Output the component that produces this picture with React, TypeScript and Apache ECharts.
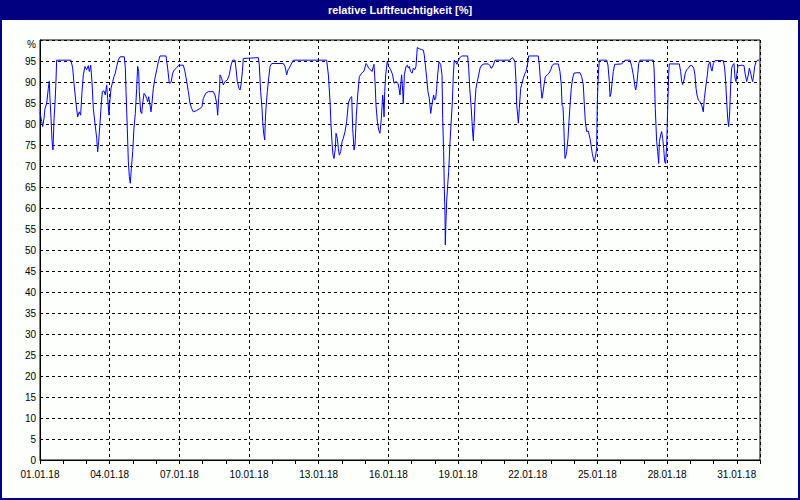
import React, { useEffect, useRef } from "react";
import * as echarts from "echarts";

const TITLE = "relative Luftfeuchtigkeit [%]";
const MONTH_SUFFIX = ".01.18";
const X_MAX_HOURS = 744; // 01.01.18 00:00 .. 01.02.18 00:00
const Y_TICKS_TOP_LABEL = "%";

// [hours since 01.01.18 00:00, relative humidity %]
const week1: [number, number][] = [
  [0, 82.7], [1.7, 80.6], [2.8, 79.4], [4.1, 81.3], [5.2, 83.7], [6.9, 84.9], [8.6, 88.5], [9.6, 90.2], [10.3, 86.1], [11.4, 81.3],
  [12.4, 76.2], [13.4, 73.8], [14.5, 81.2], [15.5, 84.9], [16.5, 90.1], [17.2, 95.2], [32.0, 95.2], [33.8, 93.3], [35.1, 89.7], [37.2, 84.9],
  [38.9, 81.7], [40.6, 82.9], [42.0, 82.1], [43.4, 87.7], [44.8, 91.7], [46.5, 93.7], [48.2, 92.9], [49.9, 93.9], [51.0, 92.5], [52.4, 94.0],
  [53.7, 90.1], [55.1, 83.7], [56.8, 80.2], [58.6, 76.6], [59.6, 73.4], [60.6, 75.8], [62.0, 80.2], [63.0, 83.7], [64.4, 87.7], [66.1, 87.9],
  [67.5, 86.9], [68.9, 89.3], [69.9, 86.1], [71.3, 82.1], [72.3, 85.7], [73.4, 88.5], [75.1, 90.1], [76.5, 91.3], [77.8, 92.1], [79.2, 93.7],
  [80.9, 95.2], [82.7, 96.0], [87.1, 96.0], [88.2, 93.3], [88.9, 87.7], [90.2, 79.0], [91.3, 71.0], [92.3, 67.5], [93.3, 65.9], [94.4, 69.4],
  [95.8, 73.4], [97.1, 79.0], [98.5, 82.5], [99.9, 88.5], [100.9, 93.7], [102.0, 92.5], [102.6, 87.7], [104.0, 82.9], [105.1, 82.5], [106.1, 84.9],
  [107.5, 87.3], [108.8, 86.9], [110.2, 86.1], [111.3, 85.3], [112.3, 86.5], [113.7, 84.5], [114.7, 82.9], [115.7, 84.9], [117.1, 88.5], [118.8, 90.9],
  [120.6, 92.9], [122.3, 94.8], [124.0, 96.2], [130.2, 96.2], [131.9, 93.3], [133.6, 89.7], [135.4, 89.9], [137.1, 92.1], [138.8, 92.9], [141.2, 93.4],
  [143.3, 94.0], [148.1, 94.0], [149.8, 92.5], [151.6, 90.1], [153.3, 87.7], [155.0, 84.9], [156.7, 83.7], [158.4, 82.9], [161.9, 83.2], [165.3, 83.7],
  [167.4, 84.1], [168.8, 86.1], [171.2, 87.3], [173.9, 87.7], [179.1, 87.7], [180.8, 86.9], [182.6, 84.9], [183.6, 82.1], [184.6, 86.1], [185.6, 88.5],
];

const week2: [number, number][] = [
  [186.0, 91.7], [187.7, 90.9], [189.4, 89.3], [191.2, 90.1], [193.6, 90.5], [195.6, 91.7], [197.4, 94.0], [199.1, 95.2], [201.5, 95.2], [202.5, 93.3],
  [203.9, 90.1], [205.6, 88.5], [206.7, 88.1], [207.7, 89.3], [209.1, 92.5], [210.1, 95.6], [225.6, 95.8], [226.6, 94.0], [228.0, 87.7], [229.4, 83.7],
  [230.1, 80.6], [231.1, 77.8], [232.2, 76.2], [232.8, 80.6], [233.5, 83.7], [234.9, 87.7], [236.3, 90.9], [237.7, 93.7], [239.4, 94.4], [251.4, 94.4],
  [253.2, 93.7], [254.9, 91.7], [256.3, 92.9], [257.6, 93.3], [259.0, 94.0], [261.8, 95.2], [296.2, 95.2], [298.0, 91.7], [299.7, 85.3], [300.7, 79.8],
  [301.7, 75.8], [302.8, 72.6], [303.8, 71.8], [305.2, 74.2], [305.9, 77.8], [307.2, 76.6], [308.3, 74.2], [309.3, 72.6], [310.7, 73.4], [312.1, 75.8],
  [313.4, 76.6], [315.2, 78.2], [316.9, 80.6], [318.6, 84.9], [320.3, 86.1], [322.1, 86.5], [323.1, 79.0], [324.5, 73.8], [325.5, 75.0], [326.9, 82.1],
  [328.3, 86.9], [330.0, 91.3], [332.4, 92.1], [334.8, 92.6], [336.9, 94.4], [338.2, 94.0], [339.6, 93.3], [341.7, 92.9], [343.1, 92.5], [345.1, 94.2],
  [346.2, 90.1], [347.2, 84.5], [348.6, 80.6], [350.0, 78.6], [351.3, 77.8], [352.7, 81.3], [354.1, 86.9], [354.8, 85.3], [355.5, 81.7], [356.2, 87.7],
  [357.2, 91.7], [358.9, 95.0], [360.3, 93.7], [362.4, 92.9], [364.4, 91.7], [365.8, 89.7], [367.9, 90.1], [369.9, 89.7], [371.0, 88.5], [372.0, 86.9],
];

const week3: [number, number][] = [
  [373.0, 90.1], [373.7, 91.7], [374.8, 87.7], [375.4, 84.9], [376.5, 91.7], [378.2, 93.7], [379.6, 94.0], [380.6, 93.3], [381.6, 93.7], [383.0, 92.5],
  [384.4, 92.1], [385.8, 93.3], [387.2, 92.9], [388.5, 93.7], [389.9, 98.2], [392.0, 97.9], [394.4, 97.7], [396.1, 97.6], [397.1, 96.4], [398.2, 94.0],
  [399.6, 90.9], [400.9, 87.7], [402.3, 86.1], [403.7, 82.5], [404.7, 84.1], [405.8, 85.7], [406.8, 86.9], [407.8, 85.7], [408.9, 86.1], [409.9, 88.5],
  [410.9, 91.7], [412.3, 94.8], [414.0, 94.2], [415.4, 91.7], [416.1, 81.3], [417.1, 73.4], [417.8, 64.7], [418.5, 58.3], [418.8, 51.2], [419.5, 56.7],
  [420.2, 61.5], [421.3, 65.5], [422.3, 68.7], [423.7, 75.8], [424.7, 79.8], [426.1, 85.3], [427.1, 91.7], [428.1, 95.2], [429.5, 94.8], [430.9, 94.2],
  [432.3, 95.2], [434.0, 95.8], [435.7, 96.2], [441.9, 96.2], [443.0, 93.3], [444.0, 88.5], [445.4, 84.5], [446.4, 80.6], [447.1, 77.8], [447.8, 76.0],
  [448.5, 79.8], [449.5, 85.3], [450.5, 88.5], [451.9, 90.1], [453.3, 91.7], [454.7, 93.3], [456.4, 94.0], [458.8, 94.3], [463.3, 94.3], [465.0, 93.9],
  [466.0, 93.3], [467.1, 93.4], [468.4, 94.0], [470.2, 95.2], [485.7, 95.2], [487.7, 95.8], [489.1, 95.6], [490.8, 94.8], [491.9, 90.1], [492.6, 84.5],
  [493.6, 82.1], [494.3, 80.2], [495.3, 83.7], [496.7, 88.5], [498.1, 89.7], [499.4, 90.9], [501.2, 92.1], [502.2, 92.5], [503.6, 94.0], [505.0, 96.2],
  [514.9, 96.2], [516.0, 94.0], [516.7, 91.7], [517.7, 88.5], [518.7, 86.1], [519.4, 86.9], [520.8, 89.3], [522.2, 91.3], [524.2, 91.7], [526.0, 92.1],
  [527.7, 92.9], [529.4, 94.0], [531.1, 94.3], [535.6, 94.3], [537.3, 92.5], [538.7, 89.3], [539.4, 84.5], [540.4, 84.1], [541.1, 80.6], [541.8, 75.8],
  [542.5, 71.8], [543.2, 72.2], [544.2, 73.4], [545.6, 76.6], [546.6, 80.6], [547.7, 84.5], [549.0, 88.5], [550.4, 90.9], [551.8, 92.1], [554.6, 92.2],
  [558.0, 92.2],
];

const week4: [number, number][] = [
  [559.7, 91.3], [561.4, 89.3], [562.5, 84.5], [563.5, 80.6], [564.9, 78.2], [566.6, 78.3], [568.3, 76.6], [569.4, 75.0], [570.7, 73.0], [571.8, 71.8],
  [572.8, 71.0], [574.2, 72.6], [575.2, 74.2], [575.9, 85.3], [576.9, 91.7], [578.0, 95.2], [585.6, 95.2], [586.9, 94.0], [588.3, 90.1], [589.0, 86.5],
  [590.0, 87.3], [591.1, 89.7], [592.4, 92.5], [593.8, 94.2], [601.1, 94.3], [602.8, 94.8], [604.5, 95.2], [609.7, 95.2], [611.4, 93.7], [613.1, 91.7],
  [614.5, 89.3], [615.5, 88.1], [616.6, 89.3], [617.6, 91.7], [618.6, 94.4], [620.0, 95.2], [633.8, 95.2], [634.5, 93.3], [635.2, 88.5], [635.8, 83.7],
  [636.5, 79.8], [637.2, 75.8], [638.3, 73.4], [639.3, 70.6], [640.0, 75.8], [641.4, 77.4], [642.4, 78.2], [643.4, 76.6], [644.5, 74.2], [645.5, 71.0],
  [646.5, 70.6], [647.6, 75.0], [648.6, 83.7], [649.6, 91.7], [650.3, 94.3], [660.6, 94.3], [662.0, 92.5], [663.1, 90.1], [664.1, 89.4], [665.5, 90.5],
  [666.8, 92.1], [668.2, 92.9], [669.9, 93.3], [671.7, 93.9], [673.7, 93.9], [675.5, 93.3], [676.8, 91.7], [677.9, 88.5], [678.9, 86.9], [680.3, 85.7],
  [682.0, 85.3], [683.7, 84.5], [685.4, 82.9], [686.5, 86.1], [688.2, 89.3], [689.6, 91.7], [690.6, 94.0], [692.3, 94.8], [693.4, 93.3], [694.4, 92.6],
  [695.8, 94.4], [697.5, 95.1], [706.1, 95.1], [707.5, 93.3], [708.5, 90.1], [709.6, 85.3], [710.6, 81.3], [711.6, 79.4], [712.7, 82.9], [713.7, 89.3],
  [714.7, 93.3], [715.8, 94.0], [717.1, 94.4], [718.2, 90.9], [719.2, 90.1], [720.2, 92.1], [721.3, 93.9], [726.1, 94.0], [727.5, 93.9], [728.5, 92.1],
  [730.2, 90.1], [731.9, 91.7], [733.0, 93.3], [734.4, 92.1], [735.4, 90.9], [736.4, 90.1], [737.5, 91.7], [738.5, 93.7], [739.9, 94.8], [741.6, 95.2],
  [743.0, 95.2],
];

const FONT = '"Liberation Sans", Arial, sans-serif';

function dateLabel(hours: number): string {
  const day = Math.round(hours / 24) + 1;
  return (day < 10 ? "0" + day : String(day)) + MONTH_SUFFIX;
}

export default function App() {
  const ref = useRef<HTMLDivElement>(null);

  useEffect(() => {
    document.body.style.margin = "0";
    const chart = echarts.init(ref.current!, null, { renderer: "svg" });
    const data = [...week1, ...week2, ...week3, ...week4];
    chart.setOption({
      animation: false,
      backgroundColor: "#fcfffc",
      graphic: [
        { type: "rect", shape: { x: 0, y: 0, width: 800, height: 20 }, style: { fill: "#000080" }, z: 10 },
        {
          type: "text",
          x: 400,
          y: 10,
          z: 11,
          style: {
            text: TITLE,
            fill: "#ffffff",
            font: 'bold 11px "Liberation Sans", Arial, sans-serif',
            textAlign: "center",
            textVerticalAlign: "middle",
            verticalAlign: "middle",
          },
        },
        {
          type: "rect",
          shape: { x: 1, y: 1, width: 798, height: 498 },
          style: { fill: "none", stroke: "#000080", lineWidth: 2 },
          z: 12,
        },
      ],
      grid: {
        left: 40,
        right: 40,
        top: 40,
        bottom: 40,
        show: true,
        borderColor: "#000",
        borderWidth: 1,
        backgroundColor: "transparent",
      },
      xAxis: [
        {
          type: "value",
          min: 0,
          max: X_MAX_HOURS,
          interval: 72,
          position: "bottom",
          axisLine: { show: true, lineStyle: { color: "#000", width: 1 } },
          axisTick: { show: false },
          splitLine: { show: true, lineStyle: { color: "#000", type: [3, 3], width: 1 } },
          axisLabel: {
            color: "#000",
            fontFamily: FONT,
            fontSize: 10,
            margin: 9,
            showMaxLabel: false,
            formatter: (v: number) => dateLabel(v),
          },
        },
        {
          type: "value",
          min: 0,
          max: X_MAX_HOURS,
          interval: 24,
          position: "bottom",
          axisLine: { show: false },
          axisTick: { show: true, length: 4, lineStyle: { color: "#000", width: 1 } },
          axisLabel: { show: false },
          splitLine: { show: false },
        },
      ],
      yAxis: {
        type: "value",
        min: 0,
        max: 100,
        interval: 5,
        axisLine: { show: true, lineStyle: { color: "#000", width: 1 } },
        axisTick: { show: false },
        splitLine: { show: true, lineStyle: { color: "#000", type: [3, 3], width: 1 } },
        axisLabel: {
          color: "#000",
          fontFamily: FONT,
          fontSize: 10,
          margin: 4,
          formatter: (v: number) => (v === 100 ? "{p|" + Y_TICKS_TOP_LABEL + "}" : String(v)),
          rich: { p: { color: "#000", fontFamily: FONT, fontSize: 10, padding: [8, 0, 0, 0] } },
        },
      },
      series: [
        {
          type: "line",
          xAxisIndex: 0,
          data,
          showSymbol: false,
          symbol: "none",
          lineStyle: { color: "#0000ff", width: 1 },
          itemStyle: { color: "#0000ff" },
        },
      ],
    });
    return () => chart.dispose();
  }, []);

  return <div ref={ref} style={{ width: 800, height: 500, position: "absolute", left: 0, top: 0 }} />;
}
